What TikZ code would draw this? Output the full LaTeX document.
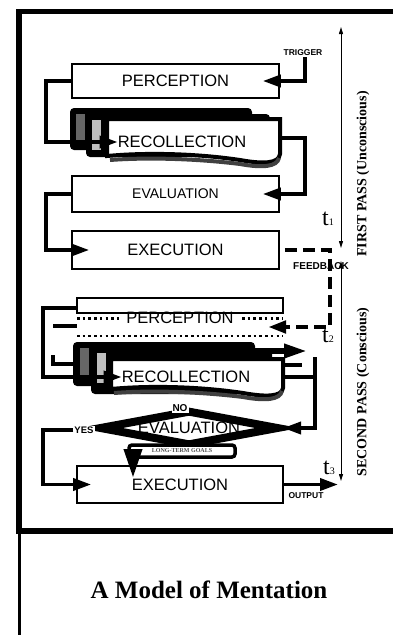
\documentclass[tikz,border=0pt]{standalone}
\usepackage{fontspec}
\setmainfont{Liberation Serif}
\setsansfont{Liberation Sans}
\usetikzlibrary{arrows.meta,shapes.geometric,positioning}

\tikzset{
  box/.style={draw,line width=1.6pt,fill=white,minimum width=207pt,minimum height=34pt,
    inner sep=0pt,font=\sffamily\fontsize{16.5}{16.5}\selectfont},
  lbl/.style={inner sep=0pt,font=\sffamily\fontsize{16.5}{16.5}\selectfont},
  wire/.style={line width=3.6pt},
  conn/.style={line width=3.6pt,-{Triangle[length=18pt,width=12pt]}},
  feedback/.style={line width=4.5pt,dash pattern=on 12pt off 6pt,-{Triangle[length=18pt,width=12pt]}},
  tag/.style={inner sep=1pt,font=\sffamily\bfseries\fontsize{8.5}{8.5}\selectfont},
  tline/.style={line width=1pt,{Triangle[length=7pt,width=4pt]}-{Triangle[length=7pt,width=4pt]}},
  pass/.style={rotate=90,inner sep=0pt,font=\bfseries\fontsize{14}{14}\selectfont},
  tmark/.style={inner sep=0pt,font=\fontsize{24}{24}\selectfont},
}

\begin{document}
\begin{tikzpicture}[x=1pt,y=-1pt]
  \useasboundingbox (0,0) rectangle (392,635);
  % frame
  \draw[line width=5.5pt] (400,11.5) -- (19,11.5) -- (19,531) -- (400,531);
  \draw[line width=3pt] (19,533) -- (19,640);
  \node[font=\bfseries\fontsize{25}{25}\selectfont] (title) at (209,590) {A Model of Mentation};

  % time axis
  \coordinate (ta1) at (341,27);
  \coordinate (tb1) at (341,248);
  \coordinate (ta2) at (341,261);
  \coordinate (tb2) at (341,481);
  \draw[tline] (ta1) -- (tb1);
  \draw[tline] (ta2) -- (tb2);
  \node[pass] (first) at (363,174) {FIRST PASS (Unconscious)};
  \node[pass] (second) at (363,392) {SECOND PASS (Conscious)};
  \node[tmark] (t1) at (328,219) {t{\fontsize{10}{10}\selectfont 1}};
  \node[tmark] (t2) at (328,336) {t{\fontsize{10}{10}\selectfont 2}};
  \node[tmark] (t3) at (329,468) {t{\fontsize{10}{10}\selectfont 3}};

  % first pass
  \node[box] (perc1) at (175.5,81) {PERCEPTION};
  \node[box,minimum height=36pt,font=\sffamily\fontsize{14}{14}\selectfont] (eval1) at (175.5,194) {EVALUATION};
  \node[box,minimum height=38pt] (exec1) at (175.5,250) {EXECUTION};

  % recollection stack 1
  \fill[rounded corners=4pt] (70,108) rectangle (252,150);
  \fill[rounded corners=4pt] (86,114) rectangle (270,157);
  \fill[black!60] (76,114) rectangle (85,144);
  \fill[black!25] (92,120) rectangle (101,150);
  \filldraw[fill=white,line width=4pt] (107,119) -- (280,119) -- (280,154)
    .. controls (279,164) and (262,164) .. (240,160)
    .. controls (200,154) and (150,152) .. (107,156) -- cycle;
  \draw[line width=4pt,black!75] (110,160) .. controls (150,157) and (200,159) .. (240,164)
    .. controls (262,168) and (277,167) .. (279,158);
  \node[lbl] (recol1) at (182,142) {RECOLLECTION};
  \coordinate (r1e) at (282,138);

  \node[tag] (trigger) at (303,53) {TRIGGER};
  \draw[conn] (trigger.south -| 305,0) |- ([xshift=-17pt]perc1.east);
  \draw[conn] (perc1.west) -- ++(-25,0) |- (recol1.west);
  \draw[conn] (r1e) -- ++(23,0) |- ([xshift=-17pt]eval1.east);
  \draw[conn] (eval1.west) -- ++(-25,0) |- ([xshift=18pt]exec1.west);

  % second pass
  \draw[line width=1.6pt,fill=white] (77,298) rectangle (283,313);
  \draw[line width=2.2pt,dash pattern=on 2.5pt off 3.2pt] (77,318.5) -- (120,318.5) (242,318.5) -- (283,318.5);
  \draw[line width=2.2pt,dash pattern=on 2.5pt off 3.2pt] (77,336) -- (283,336);
  \node[lbl] (perc2) at (180,318) {PERCEPTION};
  \coordinate (p2w) at (77,308);
  \coordinate (fbin) at (268,327);
  \node[tag,font=\sffamily\bfseries\fontsize{10}{10}\selectfont] (fback) at (321,266) {FEEDBACK};
  \draw[feedback] ([xshift=5pt]exec1.east) -| (330,327) -- (fbin);
  \draw[wire] (53,326) -- (77,326);

  % recollection stack 2
  \fill[rounded corners=4pt] (73,342) rectangle (255,386);
  \fill[rounded corners=4pt] (91,348) rectangle (272,394);
  \draw[line width=6pt,-{Triangle[length=24pt,width=13pt]}] (240,351) -- (308,351);
  \fill[black!60] (80,348) rectangle (89,377);
  \fill[black!25] (97,353) rectangle (106,383);
  \filldraw[fill=white,line width=4pt] (111,359) -- (283,359) -- (283,388)
    .. controls (282,397) and (265,397) .. (243,393)
    .. controls (203,387) and (153,385) .. (111,389) -- cycle;
  \draw[line width=4pt,black!75] (114,393) .. controls (153,390) and (203,392) .. (243,397)
    .. controls (265,401) and (280,400) .. (282,391);
  \node[lbl] (recol2) at (186,377) {RECOLLECTION};
  \coordinate (r2e) at (285,377);
  \coordinate (r2n) at (315,357);
  \draw[wire] (53,355) -- (53,364) -- (78,364);
  \draw[wire] (285,365) -- (302,365);

  \node[diamond,draw,line width=8pt,fill=white,aspect=5,minimum width=180pt,minimum height=36pt,
    inner sep=0pt,font=\sffamily\fontsize{16.5}{16.5}\selectfont] (eval2) at (189,428) {EVALUATION};
  \node[tag,fill=white,font=\sffamily\bfseries\fontsize{10}{10}\selectfont] (no) at (180,408) {NO};
  \node[tag,fill=white,font=\sffamily\bfseries\fontsize{9.5}{9.5}\selectfont] (yes) at (84,430) {YES};
  \node[draw,line width=3.5pt,rounded corners=3pt,fill=white,minimum width=106pt,minimum height=12pt,
    inner sep=0pt,text=black!70,font=\bfseries\fontsize{6}{6}\selectfont] (ltg) at (182,451) {LONG-TERM GOALS};
  \node[box,minimum width=206pt,minimum height=37pt] (exec2) at (180,484.5) {EXECUTION};
  \coordinate (out) at (338,484.5);

  \draw[conn] (p2w) -- (43,308) |- (recol2.west);
  \draw[wire] (r2e) -- (315,377);
  \draw[conn] (r2n) |- (eval2.east);
  \draw[conn] (yes.west) -- (43,430) |- ([xshift=15pt]exec2.west);
  \draw[line width=3.6pt,-{Triangle[length=28pt,width=18pt]}] ([xshift=-56pt]eval2.south) -- ([xshift=-47pt,yshift=-12pt]exec2.north);
  \draw[conn] (exec2.east) -- (out);
  \node[tag] (output) at (306,496) {OUTPUT};
\end{tikzpicture}
\end{document}
